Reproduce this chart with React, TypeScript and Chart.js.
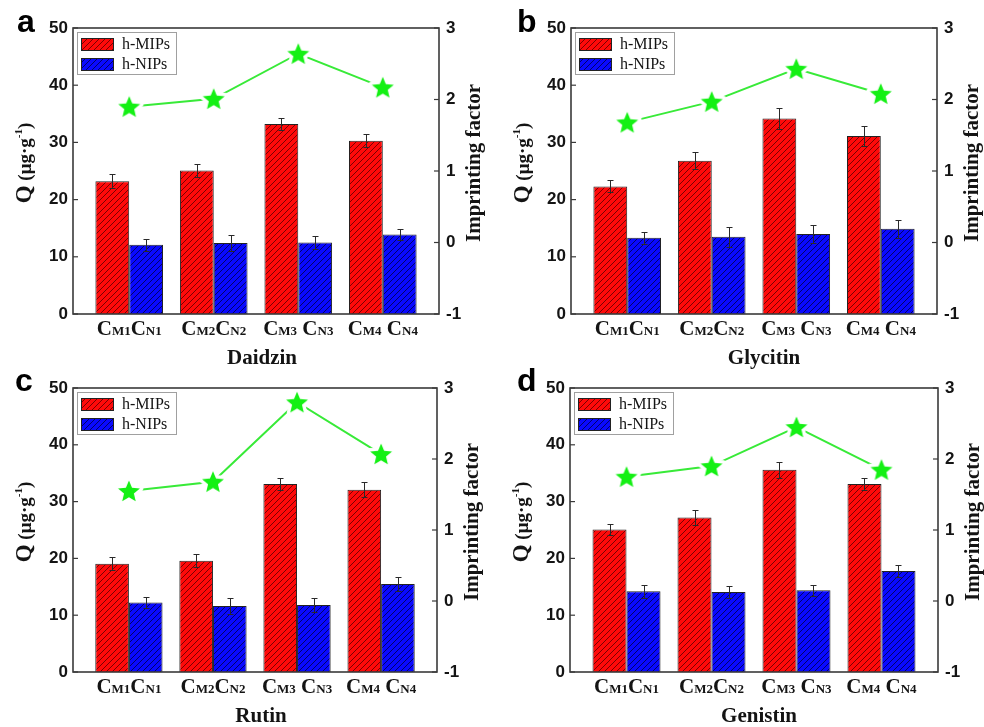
import React, { useEffect, useRef } from 'react';
import { Chart, registerables } from 'chart.js';

Chart.register(...registerables);

// ---------------- data ----------------
const groupNumbers = ['1', '2', '3', '4'];
const legendLabels = ['h-MIPs', 'h-NIPs'];
const yTitleLeft = 'Q';
const yTitleRight = 'Imprinting factor';

const daidzinMIPs = [23.2, 25.1, 33.2, 30.3];
const daidzinMIPsErr = [1.2, 1.2, 1.1, 1.1];
const daidzinNIPs = [12.1, 12.4, 12.5, 13.9];
const daidzinNIPsErr = [1.0, 1.4, 1.1, 1.0];
const daidzinFactor = [1.9, 2.01, 2.64, 2.17];

const glycitinMIPs = [22.3, 26.8, 34.2, 31.1];
const glycitinMIPsErr = [1.05, 1.45, 1.9, 1.8];
const glycitinNIPs = [13.35, 13.5, 14.0, 14.9];
const glycitinNIPsErr = [1.05, 1.7, 1.5, 1.6];
const glycitinFactor = [1.68, 1.97, 2.43, 2.08];

const rutinMIPs = [19.05, 19.6, 33.1, 32.1];
const rutinMIPsErr = [1.15, 1.1, 1.0, 1.35];
const rutinNIPs = [12.25, 11.6, 11.8, 15.5];
const rutinNIPsErr = [0.95, 1.35, 1.15, 1.3];
const rutinFactor = [1.55, 1.68, 2.8, 2.07];

const genistinMIPs = [25.1, 27.2, 35.6, 33.1];
const genistinMIPsErr = [1.0, 1.3, 1.4, 1.0];
const genistinNIPs = [14.2, 14.1, 14.4, 17.8];
const genistinNIPsErr = [1.2, 1.05, 1.0, 1.05];
const genistinFactor = [1.75, 1.9, 2.45, 1.85];

// ---------------- layout ----------------
const X_MIN = 0.335;
const X_MAX = 4.665;
const SERIF = '"Liberation Serif", "Times New Roman", serif';
const SANS = '"Liberation Sans", Arial, sans-serif';
const TEXT = '#141414';

type Panel = {
  letter: string; name: string;
  mips: number[]; mipsErr: number[]; nips: number[]; nipsErr: number[]; factor: number[];
  x: number; y: number; w: number; h: number;
  left: number; right: number; top: number; bottom: number;
  letterX: number; letterY: number; titleShift: number;
};

const PANELS: Panel[] = [
  { letter: 'a', name: 'Daidzin', mips: daidzinMIPs, mipsErr: daidzinMIPsErr, nips: daidzinNIPs, nipsErr: daidzinNIPsErr, factor: daidzinFactor,
    x: 0, y: 0, w: 492, h: 372, left: 73, right: 439, top: 28, bottom: 314, letterX: 17, letterY: 32, titleShift: 6 },
  { letter: 'b', name: 'Glycitin', mips: glycitinMIPs, mipsErr: glycitinMIPsErr, nips: glycitinNIPs, nipsErr: glycitinNIPsErr, factor: glycitinFactor,
    x: 492, y: 0, w: 492, h: 372, left: 79, right: 445, top: 28, bottom: 314, letterX: 25, letterY: 32, titleShift: 10 },
  { letter: 'c', name: 'Rutin', mips: rutinMIPs, mipsErr: rutinMIPsErr, nips: rutinNIPs, nipsErr: rutinNIPsErr, factor: rutinFactor,
    x: 0, y: 364, w: 492, h: 363, left: 73, right: 437, top: 24, bottom: 308, letterX: 15, letterY: 27, titleShift: 6 },
  { letter: 'd', name: 'Genistin', mips: genistinMIPs, mipsErr: genistinMIPsErr, nips: genistinNIPs, nipsErr: genistinNIPsErr, factor: genistinFactor,
    x: 492, y: 364, w: 492, h: 363, left: 78, right: 446, top: 24, bottom: 308, letterX: 25, letterY: 27, titleShift: 5 },
];

function makeHatch(bg: string, fg: string) {
  const c = document.createElement('canvas');
  c.width = 6; c.height = 6;
  const g = c.getContext('2d')!;
  g.fillStyle = bg; g.fillRect(0, 0, 6, 6);
  g.strokeStyle = fg; g.lineWidth = 0.9;
  g.beginPath();
  g.moveTo(0, 6); g.lineTo(6, 0);
  g.moveTo(-1, 1); g.lineTo(1, -1);
  g.moveTo(5, 7); g.lineTo(7, 5);
  g.stroke();
  return g.createPattern(c, 'repeat')!;
}

function makeStar() {
  const s = 32;
  const c = document.createElement('canvas');
  c.width = s; c.height = s;
  const g = c.getContext('2d')!;
  const path = (R: number) => {
    g.beginPath();
    for (let i = 0; i < 10; i++) {
      const r = i % 2 === 0 ? R : R * 0.45;
      const a = -Math.PI / 2 + (i * Math.PI) / 5;
      const px = s / 2 + r * Math.cos(a);
      const py = s / 2 + 1 + r * Math.sin(a);
      if (i === 0) g.moveTo(px, py); else g.lineTo(px, py);
    }
    g.closePath();
  };
  path(11.5);
  g.strokeStyle = '#ffffff';
  g.lineWidth = 7;
  g.lineJoin = 'round';
  g.stroke();
  path(11.5);
  g.fillStyle = '#14f014';
  g.fill();
  return c;
}

function drawParts(ctx: CanvasRenderingContext2D, parts: { t: string; f: string; dy?: number }[], cx: number, baseY: number) {
  let total = 0;
  const widths = parts.map((p) => { ctx.font = p.f; const w = ctx.measureText(p.t).width; total += w; return w; });
  let x = cx - total / 2;
  ctx.textAlign = 'left';
  ctx.textBaseline = 'alphabetic';
  parts.forEach((p, i) => { ctx.font = p.f; ctx.fillText(p.t, x, baseY + (p.dy || 0)); x += widths[i]; });
}

function PanelChart({ p }: { p: Panel }) {
  const ref = useRef<HTMLCanvasElement>(null);
  useEffect(() => {
    const canvas = ref.current!;
    const ctx0 = canvas.getContext('2d')!;
    const redHatch = makeHatch('#ff0a0a', '#6a0000');
    const blueHatch = makeHatch('#0a0aff', '#000058');
    const star = makeStar();

    const decor = {
      id: 'decor',
      afterDatasetsDraw(chart: any) {
        const ctx = chart.ctx as CanvasRenderingContext2D;
        const ys = chart.scales.y;
        const errSets: [number, number[]][] = [[0, p.mipsErr], [1, p.nipsErr]];
        ctx.save();
        ctx.strokeStyle = '#2a2a2a';
        ctx.lineWidth = 1;
        errSets.forEach(([di, errs]) => {
          const meta = chart.getDatasetMeta(di);
          const vals = chart.data.datasets[di].data;
          meta.data.forEach((bar: any, i: number) => {
            const v = vals[i].y;
            const e = errs[i];
            const yt = Math.round(ys.getPixelForValue(v + e)) + 0.5;
            const yb = Math.round(ys.getPixelForValue(v - e)) + 0.5;
            const x = Math.round(bar.x) + 0.5;
            ctx.beginPath();
            ctx.moveTo(x, yt); ctx.lineTo(x, yb);
            ctx.moveTo(x - 3, yt); ctx.lineTo(x + 3, yt);
            ctx.moveTo(x - 3, yb); ctx.lineTo(x + 3, yb);
            ctx.stroke();
          });
        });
        ctx.restore();
      },
      afterDraw(chart: any) {
        const ctx = chart.ctx as CanvasRenderingContext2D;
        const a = chart.chartArea;
        const ys = chart.scales.y;
        const y1 = chart.scales.y1;
        const xs = chart.scales.x;
        ctx.save();
        // frame
        ctx.strokeStyle = '#3a3a3a';
        ctx.lineWidth = 1.6;
        ctx.strokeRect(a.left, a.top, a.right - a.left, a.bottom - a.top);
        // inward ticks
        ctx.lineWidth = 1.2;
        ys.ticks.forEach((t: any) => {
          const py = ys.getPixelForValue(t.value);
          ctx.beginPath(); ctx.moveTo(a.left, py); ctx.lineTo(a.left + 5, py); ctx.stroke();
        });
        y1.ticks.forEach((t: any) => {
          const py = y1.getPixelForValue(t.value);
          ctx.beginPath(); ctx.moveTo(a.right, py); ctx.lineTo(a.right - 5, py); ctx.stroke();
        });
        // legend
        const lx = a.left + 4, ly = a.top + 4;
        ctx.fillStyle = '#ffffff';
        ctx.fillRect(lx, ly, 99, 42);
        ctx.strokeStyle = '#a0a0a0';
        ctx.lineWidth = 1;
        ctx.strokeRect(lx + 0.5, ly + 0.5, 99, 42);
        const fills = [redHatch, blueHatch];
        legendLabels.forEach((lab, i) => {
          const sy = ly + 6 + i * 20;
          ctx.fillStyle = fills[i];
          ctx.fillRect(lx + 4, sy, 33, 13);
          ctx.strokeStyle = '#222';
          ctx.strokeRect(lx + 4.5, sy + 0.5, 32, 12);
          ctx.fillStyle = TEXT;
          ctx.font = `16px ${SERIF}`;
          ctx.textAlign = 'left';
          ctx.textBaseline = 'middle';
          ctx.fillText(lab, lx + 45, sy + 7);
        });
        // x category labels
        ctx.fillStyle = TEXT;
        const big = `bold 21px ${SERIF}`;
        const small = `bold 13px ${SERIF}`;
        groupNumbers.forEach((n, i) => {
          const cx = xs.getPixelForValue(i + 1);
          drawParts(ctx, [
            { t: 'C', f: big }, { t: 'M' + n, f: small },
            { t: i >= 2 ? ' C' : 'C', f: big }, { t: 'N' + n, f: small },
          ], cx, a.bottom + 21);
        });
        // x title
        ctx.font = `bold 21px ${SERIF}`;
        ctx.textAlign = 'center';
        ctx.textBaseline = 'alphabetic';
        ctx.fillText(p.name, (a.left + a.right) / 2 + p.titleShift, a.bottom + 50);
        // left title
        const mid = (a.top + a.bottom) / 2 - 8;
        ctx.save();
        ctx.translate(a.left - 42, mid);
        ctx.rotate(-Math.PI / 2);
        drawParts(ctx, [
          { t: yTitleLeft, f: `bold 23px ${SERIF}` },
          { t: ' (\u03bcg\u00b7g', f: `bold 19px ${SERIF}` },
          { t: '-1', f: `bold 11px ${SERIF}`, dy: -9 },
          { t: ')', f: `bold 19px ${SERIF}` },
        ], 0, 0);
        ctx.restore();
        // right title
        ctx.save();
        ctx.translate(a.right + 41, mid);
        ctx.rotate(-Math.PI / 2);
        ctx.font = `bold 21px ${SERIF}`;
        ctx.textAlign = 'center';
        ctx.textBaseline = 'alphabetic';
        ctx.fillText(yTitleRight, 0, 0);
        ctx.restore();
        // panel letter
        ctx.font = `bold 32px ${SANS}`;
        ctx.textAlign = 'left';
        ctx.textBaseline = 'alphabetic';
        ctx.fillStyle = '#000';
        ctx.fillText(p.letter, p.letterX, p.letterY);
        ctx.restore();
      },
    };

    const tickFont = { family: SANS, weight: 'bold' as const, size: 17 };
    const chart = new Chart(ctx0, {
      type: 'bar',
      data: {
        datasets: [
          {
            type: 'bar', label: legendLabels[0],
            data: p.mips.map((v, i) => ({ x: i + 1, y: v })),
            backgroundColor: redHatch, borderColor: '#222', borderWidth: 1,
            yAxisID: 'y', order: 2,
          },
          {
            type: 'bar', label: legendLabels[1],
            data: p.nips.map((v, i) => ({ x: i + 1, y: v })),
            backgroundColor: blueHatch, borderColor: '#222', borderWidth: 1,
            yAxisID: 'y', order: 2,
          },
          {
            type: 'line', label: 'factor',
            data: p.factor.map((v, i) => ({ x: i + 1, y: v })),
            borderColor: '#38ea38', borderWidth: 2,
            pointStyle: star as any, pointRadius: 10,
            yAxisID: 'y1', order: 0,
          } as any,
        ],
      },
      options: {
        animation: false,
        responsive: false,
        devicePixelRatio: 1,
        layout: { padding: { left: 0, right: 0, top: p.top, bottom: p.h - p.bottom - 50 } },
        datasets: { bar: { categoryPercentage: 0.8, barPercentage: 1 } } as any,
        plugins: { legend: { display: false }, tooltip: { enabled: false } },
        scales: {
          x: {
            type: 'linear', min: X_MIN, max: X_MAX, offset: false,
            grid: { display: false }, border: { display: false },
            ticks: { display: false, stepSize: 1, includeBounds: false },
            afterFit: (s: any) => { s.height = 50; },
          },
          y: {
            type: 'linear', position: 'left', min: 0, max: 50,
            grid: { display: false, drawTicks: false }, border: { display: false },
            ticks: { stepSize: 10, padding: 5, font: tickFont, color: TEXT },
            afterFit: (s: any) => { s.width = p.left; },
          },
          y1: {
            type: 'linear', position: 'right', min: -1, max: 3,
            grid: { display: false, drawTicks: false }, border: { display: false },
            ticks: { stepSize: 1, padding: 7, font: tickFont, color: TEXT },
            afterFit: (s: any) => { s.width = p.w - p.right; },
          },
        } as any,
      },
      plugins: [decor],
    });
    return () => chart.destroy();
  }, [p]);
  return (
    <canvas
      ref={ref}
      width={p.w}
      height={p.h}
      style={{ position: 'absolute', left: p.x, top: p.y, width: p.w, height: p.h }}
    />
  );
}

export default function App() {
  return (
    <div style={{ position: 'absolute', left: 0, top: 0, width: 984, height: 727, background: '#ffffff', overflow: 'hidden' }}>
      {PANELS.map((p) => (
        <PanelChart key={p.letter} p={p} />
      ))}
    </div>
  );
}
